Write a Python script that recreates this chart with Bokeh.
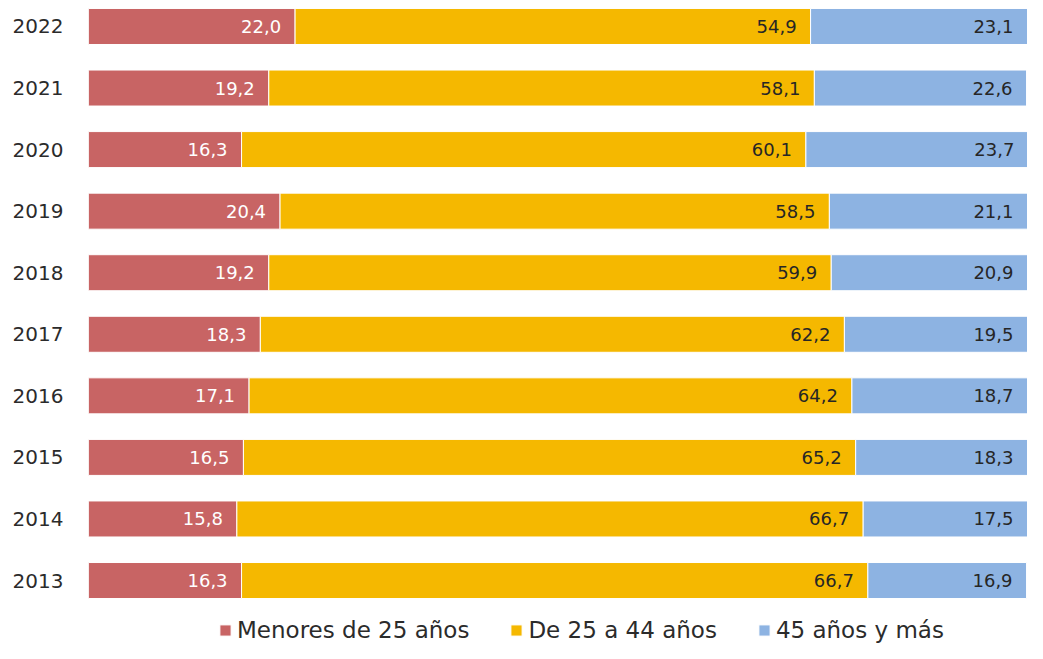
from bokeh.plotting import figure
from bokeh.models import ColumnDataSource, Range1d, FixedTicker, Legend, LegendItem
from bokeh.core.properties import value
from bokeh.embed import file_html
from bokeh.resources import INLINE

years = ["2013", "2014", "2015", "2016", "2017", "2018", "2019", "2020", "2021", "2022"]
menores_25 = [16.3, 15.8, 16.5, 17.1, 18.3, 19.2, 20.4, 16.3, 19.2, 22.0]
de_25_44 = [66.7, 66.7, 65.2, 64.2, 62.2, 59.9, 58.5, 60.1, 58.1, 54.9]
mas_45 = [16.9, 17.5, 18.3, 18.7, 19.5, 20.9, 21.1, 23.7, 22.6, 23.1]
series_labels = ["Menores de 25 años", "De 25 a 44 años", "45 años y más"]
colors = ["#C86464", "#F5B800", "#8DB3E2"]

FONT = "DejaVu Sans"

idx = list(range(len(years)))
src = ColumnDataSource(dict(y=idx, a=menores_25, b=de_25_44, c=mas_45))

p = figure(width=1027, height=643, output_backend="svg", toolbar_location=None,
           x_range=Range1d(0, 100), y_range=Range1d(-1.023, 9.422),
           x_axis_location=None, min_border_left=88, min_border_right=0,
           min_border_top=0, min_border_bottom=0)
p.outline_line_color = None
p.xgrid.visible = False
p.ygrid.visible = False
p.background_fill_color = "white"
p.border_fill_color = "white"

rs = p.hbar_stack(["a", "b", "c"], y="y", height=0.585, source=src,
                  color=colors, line_color="white", line_width=1)

def fmt(v):
    return f"{v:.1f}".replace(".", ",")

ends_a = menores_25
ends_b = [a + b for a, b in zip(menores_25, de_25_44)]
ends_c = [a + b + c for a, b, c in zip(menores_25, de_25_44, mas_45)]
lab_src = ColumnDataSource(dict(
    y=idx * 3,
    x=ends_a + ends_b + ends_c,
    t=[fmt(v) for v in menores_25 + de_25_44 + mas_45],
    col=["white"] * len(idx) + ["#262626"] * (2 * len(idx)),
))
p.text(x="x", y="y", text="t", source=lab_src, text_align="right",
       text_baseline="middle", x_offset=-14, text_color="col",
       text_font=value(FONT), text_font_size="18px")

ax = p.yaxis[0]
ax.ticker = FixedTicker(ticks=idx)
ax.major_label_overrides = {i: y for i, y in zip(idx, years)}
ax.axis_line_color = None
ax.major_tick_line_color = None
ax.minor_tick_line_color = None
ax.major_tick_out = 0
ax.major_tick_in = 0
ax.major_label_standoff = 25
ax.major_label_text_font = FONT
ax.major_label_text_font_size = "20px"
ax.major_label_text_color = "#2b2b2b"

legend = Legend(items=[LegendItem(label=l, renderers=[r]) for l, r in zip(series_labels, rs)],
                location=(130, 0), orientation="horizontal",
                glyph_width=14, glyph_height=14, label_standoff=5, spacing=40,
                padding=0, margin=0, border_line_color=None, background_fill_alpha=0,
                label_text_font=FONT, label_text_font_size="23px",
                label_text_color="#2b2b2b")
p.add_layout(legend, "center")

open("out.html", "w").write(file_html(p, INLINE))
